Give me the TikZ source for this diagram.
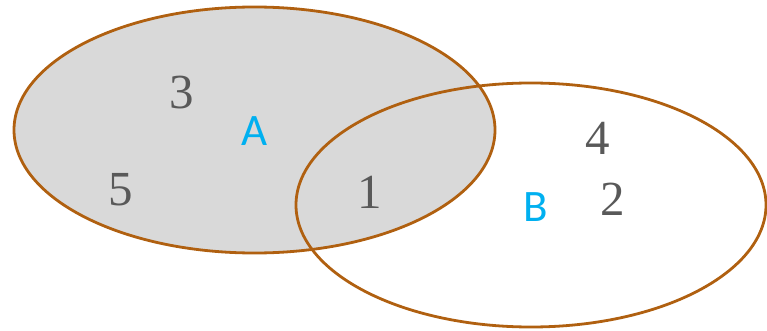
\documentclass[tikz,border=0pt]{standalone}
\usepackage{fontspec}
\setmainfont{Liberation Serif}
\newfontfamily\labelfont{Carlito}
\usepackage{tikz}
\usetikzlibrary{positioning}
\definecolor{setedge}{RGB}{176,96,16}
\definecolor{setfill}{RGB}{217,217,217}
\definecolor{setname}{RGB}{0,176,240}
\definecolor{elemgray}{RGB}{89,89,89}

\begin{document}
\begin{tikzpicture}[x=1pt, y=-1pt,
    elem/.style={font=\fontsize{49}{49}\selectfont, text=elemgray, inner sep=0pt},
    setlabel/.style={font=\labelfont\fontsize{45}{45}\selectfont, text=setname, inner sep=0pt},
    rim/.style={draw=setedge, line width=2.8pt}]
\useasboundingbox (0,0) rectangle (767,331);
%
\fill[setfill] (254.5,130) ellipse [x radius=240.5, y radius=123];
\draw[rim] (531,205) ellipse [x radius=235, y radius=122];
\draw[rim] (254.5,130) ellipse [x radius=240.5, y radius=123];

\node[elem] (n3) at (182,92.5) {3};
\node[elem] (n5) at (121,190) {5};
\node[elem] (n1) at (370,192.5) {1};
\node[elem] (n4) at (597.5,138) {4};
\node[elem] (n2) at (612.5,199) {2};

\node[setlabel] (la) at (254.5,131.5) {A};
\node[setlabel] (lb) at (536,207) {B};
%
\end{tikzpicture}
\end{document}
